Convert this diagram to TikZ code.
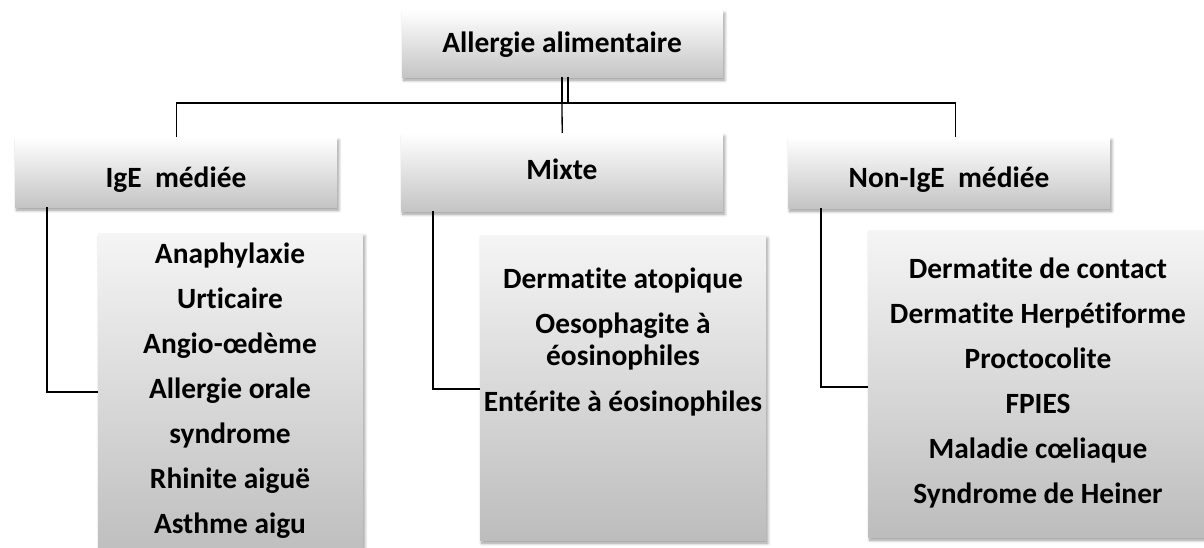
\documentclass[tikz,border=0pt]{standalone}
\usepackage{fontspec}
\setmainfont[Ligatures=NoCommon,RawFeature={-liga}]{Carlito}
\usetikzlibrary{shadows,shadows.blur}
\begin{document}
\begin{tikzpicture}[x=1pt,y=-1pt,
  box/.style={draw=none, rectangle, inner sep=0pt, anchor=north west,
    blur shadow={shadow xshift=1.5pt, shadow yshift=-3pt, shadow opacity=40, shadow blur steps=6, shadow blur radius=3pt}},
  headbox/.style={box, top color=white, bottom color=black!23},
  listbox/.style={box, top color=black!4, bottom color=black!26},
  lbl/.style={anchor=base, inner sep=0pt, font=\fontsize{29.4}{35}\selectfont\bfseries},
  conn/.style={line width=1.3pt, black}]
\useasboundingbox (0,0) rectangle (1204,548);
\clip (0,0) rectangle (1204,548);

% boxes
\node[headbox, minimum width=321pt, minimum height=67pt] (t) at (402,10) {};
\node[headbox, minimum width=322pt, minimum height=70pt] (h1) at (15,137) {};
\node[headbox, minimum width=322pt, minimum height=78pt] (h2) at (401,133) {};
\node[headbox, minimum width=322pt, minimum height=71pt] (h3) at (788,137) {};
\node[listbox, minimum width=265pt, minimum height=330pt] (b1) at (98,233) {};
\node[listbox, minimum width=286pt, minimum height=305pt] (b2) at (480,235) {};
\node[listbox, minimum width=340pt, minimum height=307pt] (b3) at (868,230) {};

% header texts
\node[lbl] (tt) at (562,53) {Allergie alimentaire};
\node[lbl] (ht1) at (176,188) {IgE\ \ médiée};
\node[lbl] (ht2) at (562,180) {Mixte};
\node[lbl] (ht3) at (949,188) {Non-IgE\ \ médiée};

% list 1
\node[lbl] (a1) at (230,263) {Anaphylaxie};
\node[lbl] (a2) at (230,308) {Urticaire};
\node[lbl] (a3) at (230,353) {Angio-œdème};
\node[lbl] (a4) at (230,398) {Allergie orale};
\node[lbl] (a5) at (230,443) {syndrome};
\node[lbl] (a6) at (230,488) {Rhinite aiguë};
\node[lbl] (a7) at (230,533) {Asthme aigu};

% list 2
\node[lbl] (m1) at (623,288) {Dermatite atopique};
\node[lbl] (m2) at (623,333) {Oesophagite à};
\node[lbl] (m3) at (623,365) {éosinophiles};
\node[lbl] (m4) at (623,411) {Entérite à éosinophiles};

% list 3
\node[lbl] (n1) at (1038,278) {Dermatite de contact};
\node[lbl] (n2) at (1038,323) {Dermatite Herpétiforme};
\node[lbl] (n3) at (1038,368) {Proctocolite};
\node[lbl] (n4) at (1038,413) {FPIES};
\node[lbl] (n5) at (1038,458) {Maladie cœliaque};
\node[lbl] (n6) at (1038,503) {Syndrome de Heiner};

% connectors
\coordinate (j) at (562,103);
\draw[conn] (t.south -| j) -- (j);
\draw[conn] ([xshift=6pt]t.south -| j) -- ([xshift=6pt]j);
\draw[conn] (h1.north) |- (j);
\draw[conn] (j) -| ([xshift=6pt]h3.north);
\draw[conn] (j) -- (h2.north);
\draw[conn] ([xshift=32pt]h1.south west) |- ([yshift=-159pt]b1.north west);
\draw[conn] ([xshift=32pt]h2.south west) |- ([yshift=-154pt]b2.north west);
\draw[conn] ([xshift=33pt]h3.south west) |- ([yshift=-157pt]b3.north west);
\end{tikzpicture}
\end{document}
